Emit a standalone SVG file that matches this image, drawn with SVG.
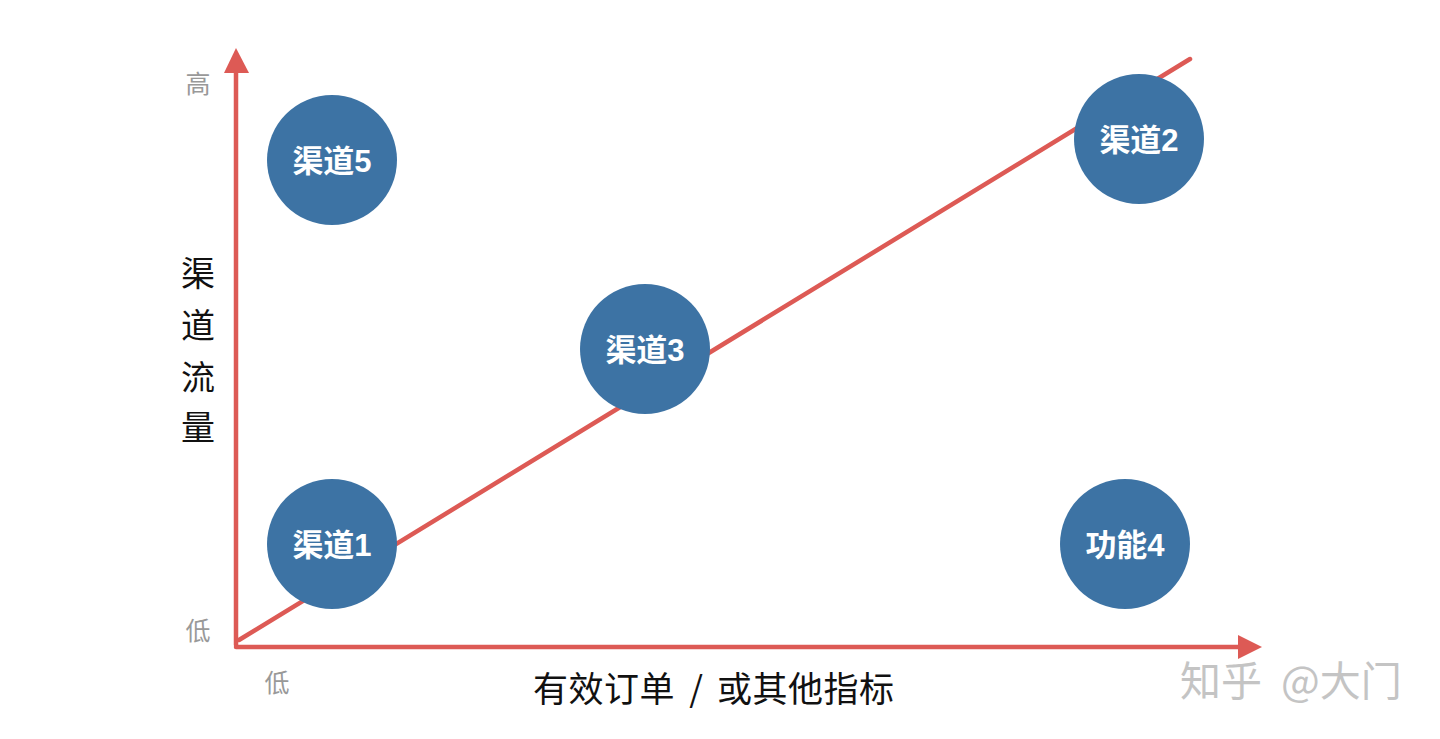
<svg xmlns="http://www.w3.org/2000/svg" width="1440" height="739" viewBox="0 0 1440 739">
<style>
.axis{stroke:#dd5a55;stroke-width:4.5;fill:none;stroke-linecap:round}
.head{fill:#dd5a55}
.node circle{fill:#3d73a4}
.node text{fill:#ffffff;font-family:"Liberation Sans","Noto Sans CJK SC",sans-serif;font-weight:bold;font-size:31px;text-anchor:middle}
.tick{fill:#999999;font-family:"Noto Sans CJK SC",sans-serif;font-size:25px;text-anchor:middle}
.lab{fill:#111111;font-family:"Noto Sans CJK SC",sans-serif;font-size:34px;text-anchor:middle}
.xl{fill:#111111;font-family:"Noto Sans CJK SC",sans-serif;font-size:35px}
.wm{fill:#c4c4c4;font-family:"Noto Sans CJK SC",sans-serif;font-size:41px}
</style>
<rect width="1440" height="739" fill="#ffffff"/>
<g id="connectors">
<line class="axis" x1="236" y1="645" x2="236" y2="68"/>
<polygon class="head" points="236,48 224,73 249,73"/>
<line class="axis" x1="236" y1="647" x2="1242" y2="647"/>
<polygon class="head" points="1262,647 1238,635 1238,659"/>
<line class="axis" x1="239" y1="640" x2="1190" y2="59"/>
</g>
<g id="labels">
<text class="tick" x="198" y="93">高</text>
<text class="tick" x="198" y="640">低</text>
<text class="tick" x="277" y="692">低</text>
<text class="lab" x="198" y="286">渠</text>
<text class="lab" x="198" y="338">道</text>
<text class="lab" x="198" y="390">流</text>
<text class="lab" x="198" y="440">量</text>
<text class="xl" x="533" y="702" letter-spacing="0.5">有效订单</text>
<text class="xl" x="696" y="702" text-anchor="middle">/</text>
<text class="xl" x="717" y="702" letter-spacing="0.5">或其他指标</text>
<text class="wm" x="1180" y="696">知乎</text>
<text class="wm" x="1281" y="696">@大门</text>
</g>
<g id="node5" class="node"><circle cx="332" cy="160" r="65"/><text x="332" y="172">渠道5</text></g>
<g id="node2" class="node"><circle cx="1139" cy="139" r="65"/><text x="1139" y="151">渠道2</text></g>
<g id="node3" class="node"><circle cx="645" cy="349" r="65"/><text x="645" y="361">渠道3</text></g>
<g id="node1" class="node"><circle cx="332" cy="544" r="65"/><text x="332" y="556">渠道1</text></g>
<g id="node4" class="node"><circle cx="1125" cy="544" r="65"/><text x="1125" y="556">功能4</text></g>
</svg>
